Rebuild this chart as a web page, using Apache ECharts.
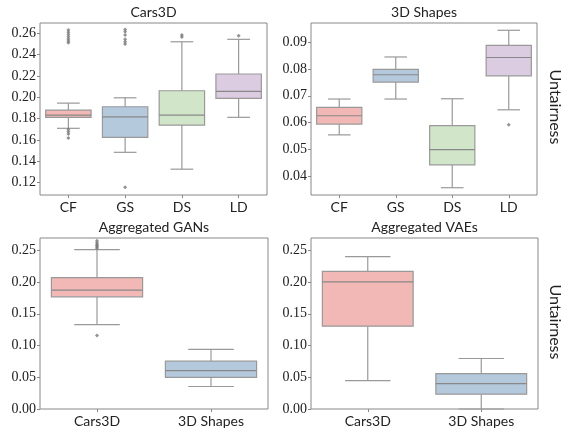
<!DOCTYPE html>
<html>
<head>
<meta charset="utf-8">
<script src="https://cdn.jsdelivr.net/npm/echarts@6/dist/echarts.min.js"></script>
<style>
  html, body { margin: 0; padding: 0; background: #fff; }
  #chart { width: 563px; height: 428px; }
</style>
</head>
<body>
<div id="chart"></div>
<script>
// categories
const methodCats = ["CF", "GS", "DS", "LD"];
const datasetCats = ["Cars3D", "3D Shapes"];

// box stats: [whiskerLow, q1, median, q3, whiskerHigh]
const cars3dStats = [
  [0.171, 0.1813, 0.1834, 0.1881, 0.1946],
  [0.1485, 0.1625, 0.1818, 0.1912, 0.1996],
  [0.1327, 0.174, 0.1834, 0.2062, 0.2521],
  [0.1813, 0.1991, 0.2056, 0.2219, 0.2544],
];
const cars3dOutliers = [
  [0, 0.2631], [0, 0.261], [0, 0.259], [0, 0.2568], [0, 0.2547], [0, 0.2528], [0, 0.2512],
  [0, 0.17], [0, 0.1678], [0, 0.1656], [0, 0.1619],
  [1, 0.2637], [1, 0.2615], [1, 0.2584], [1, 0.2544], [1, 0.2521], [1, 0.25], [1, 0.1157],
  [2, 0.2585], [2, 0.2565],
  [3, 0.2578],
];

const shapesStats = [
  [0.0555, 0.0595, 0.0626, 0.0657, 0.0688],
  [0.0688, 0.0751, 0.0778, 0.0798, 0.0844],
  [0.0359, 0.0444, 0.05, 0.0589, 0.0689],
  [0.0648, 0.0774, 0.0842, 0.0887, 0.0943],
];
const shapesOutliers = [[3, 0.0593]];

const gansStats = [
  [0.133, 0.1767, 0.1871, 0.2069, 0.251],
  [0.0354, 0.0499, 0.0603, 0.0753, 0.094],
];
const gansOutliers = [
  [0, 0.265], [0, 0.262], [0, 0.259], [0, 0.257], [0, 0.255], [0, 0.253], [0, 0.1159],
];

const vaesStats = [
  [0.0447, 0.1305, 0.2001, 0.2167, 0.2401],
  [0.0, 0.0234, 0.04, 0.0556, 0.0795],
];
const vaesOutliers = [];

const palette = ["#f1b8b5", "#b5c9dd", "#d1e6c8", "#dccce2"];
const lineColor = "#999";
const serif = "Liberation Serif";
const sans = "Lato";

var panels = [
  { title: "Cars3D", cats: methodCats, stats: cars3dStats, out: cars3dOutliers,
    grid: { left: 40, top: 23, width: 227, height: 172 }, min: 0.1085, max: 0.2697, split: 8, showMin: false },
  { title: "3D Shapes", cats: methodCats, stats: shapesStats, out: shapesOutliers,
    grid: { left: 311, top: 23, width: 226, height: 172 }, min: 0.0332, max: 0.097, split: 6, showMin: false },
  { title: "Aggregated GANs", cats: datasetCats, stats: gansStats, out: gansOutliers,
    grid: { left: 40, top: 238, width: 228, height: 173 }, min: 0, max: 0.2693, split: 5, showMin: true },
  { title: "Aggregated VAEs", cats: datasetCats, stats: vaesStats, out: vaesOutliers,
    grid: { left: 311, top: 238, width: 227, height: 173 }, min: 0, max: 0.2693, split: 5, showMin: true },
];

function renderBox(params, api) {
  var idx = api.value(0);
  var lo = api.coord([idx, api.value(1)]);
  var q1 = api.coord([idx, api.value(2)]);
  var med = api.coord([idx, api.value(3)]);
  var q3 = api.coord([idx, api.value(4)]);
  var hi = api.coord([idx, api.value(5)]);
  var band = api.size([1, 0])[0];
  var bw = band * 0.8;
  var cw = bw / 2;
  var x = lo[0];
  var ls = { stroke: lineColor, lineWidth: 1.2 };
  return {
    type: "group",
    children: [
      { type: "line", shape: { x1: x, y1: lo[1], x2: x, y2: q1[1] }, style: ls },
      { type: "line", shape: { x1: x, y1: q3[1], x2: x, y2: hi[1] }, style: ls },
      { type: "line", shape: { x1: x - cw / 2, y1: lo[1], x2: x + cw / 2, y2: lo[1] }, style: ls },
      { type: "line", shape: { x1: x - cw / 2, y1: hi[1], x2: x + cw / 2, y2: hi[1] }, style: ls },
      { type: "rect", shape: { x: x - bw / 2, y: q3[1], width: bw, height: q1[1] - q3[1] },
        style: { fill: palette[idx], stroke: lineColor, lineWidth: 1.2 } },
      { type: "line", shape: { x1: x - bw / 2, y1: med[1], x2: x + bw / 2, y2: med[1] },
        style: { stroke: "#888", lineWidth: 1.2 } },
    ],
  };
}

var grids = [], xAxes = [], yAxes = [], series = [], titles = [];
panels.forEach(function (p, i) {
  grids.push(Object.assign({ show: true, borderColor: "#888", borderWidth: 1, backgroundColor: "#fff" }, p.grid));
  titles.push({
    text: p.title,
    left: p.grid.left + p.grid.width / 2,
    top: p.grid.top - 18,
    textAlign: "center",
    padding: 0,
    textStyle: { fontFamily: sans, fontSize: 14, fontWeight: "normal", color: "#222" },
  });
  xAxes.push({
    type: "category",
    gridIndex: i,
    data: p.cats,
    boundaryGap: true,
    axisLine: { show: false },
    axisTick: { show: true, alignWithLabel: true, length: 3, lineStyle: { color: "#888" } },
    axisLabel: { fontFamily: sans, fontSize: 14, color: "#222", margin: 5 },
    splitLine: { show: false },
  });
  yAxes.push({
    type: "value",
    gridIndex: i,
    min: p.min,
    max: p.max,
    splitNumber: p.split,
    axisLine: { show: false },
    axisTick: { show: true, length: 3, lineStyle: { color: "#888" } },
    axisLabel: {
      fontFamily: serif,
      fontSize: 14,
      color: "#222",
      margin: 4,
      showMinLabel: p.showMin,
      showMaxLabel: false,
      formatter: function (v) { return v.toFixed(2); },
    },
    splitLine: { show: false },
  });
  series.push({
    type: "custom",
    xAxisIndex: i,
    yAxisIndex: i,
    renderItem: renderBox,
    data: p.stats.map(function (s, k) { return [k].concat(s); }),
    animation: false,
  });
  series.push({
    type: "scatter",
    xAxisIndex: i,
    yAxisIndex: i,
    symbol: "diamond",
    symbolSize: 4,
    itemStyle: { color: "#777" },
    data: p.out,
    animation: false,
  });
});

var chart = echarts.init(document.getElementById("chart"));
chart.setOption({
  animation: false,
  title: titles,
  grid: grids,
  xAxis: xAxes,
  yAxis: yAxes,
  series: series,
  graphic: [
    { type: "text", x: 555, y: 107, rotation: -Math.PI / 2,
      style: { text: "Untairness", fontFamily: sans, fontSize: 16, fill: "#222", align: "center", verticalAlign: "middle" } },
    { type: "text", x: 555, y: 322, rotation: -Math.PI / 2,
      style: { text: "Untairness", fontFamily: sans, fontSize: 16, fill: "#222", align: "center", verticalAlign: "middle" } },
  ],
});
</script>
</body>
</html>
